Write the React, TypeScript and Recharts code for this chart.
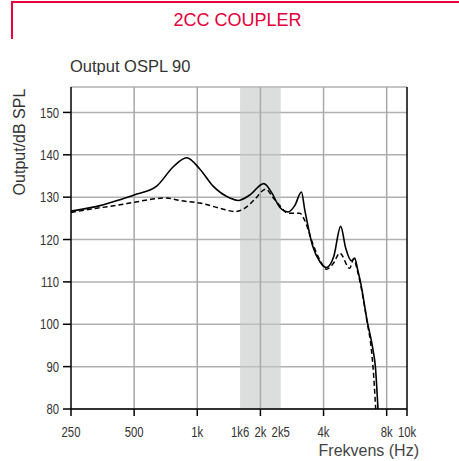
import React from 'react';
import {
  LineChart,
  Line,
  XAxis,
  YAxis,
  CartesianGrid,
  ReferenceArea,
  ReferenceLine,
} from 'recharts';

// solid curve (OSPL 90, full on)
const solidFreq = [250, 344, 428, 500, 640, 773, 889, 1030, 1190, 1430, 1565, 1780, 2076, 2267, 2474, 2710, 2916, 3138, 3255, 3553, 3837, 4130, 4474, 4830, 5100, 5430, 5630, 5840, 6000, 6445, 6883, 7067, 7271];
const solidDb = [126.7, 128, 129.4, 130.5, 132.6, 137.3, 139.3, 136.6, 132.6, 129.8, 129.2, 130.5, 133.2, 131, 127.6, 126.5, 128, 131.2, 127, 118.4, 114.8, 113.4, 116, 123.1, 118, 115, 115.6, 112.5, 110, 101, 94, 90, 80];

// dashed curve
const dashFreq = [250, 344, 428, 500, 714, 827, 1030, 1281, 1510, 1686, 1881, 2120, 2291, 2474, 2710, 3080, 3255, 3553, 3837, 4130, 4474, 4780, 5330, 5570, 5810, 6000, 6430, 6765, 6883, 7092];
const dashDb = [126.4, 127.5, 128.2, 128.8, 129.8, 129.2, 128.6, 127.4, 126.6, 127.4, 129.5, 131.9, 130, 128, 126.2, 126.2, 124.5, 119, 115.2, 113, 114.5, 116.8, 113.2, 115.4, 112.5, 109.5, 101, 94, 90, 80];

const xTicks = [250, 500, 1000, 1600, 2000, 2500, 4000, 8000, 10000];
const xTickLabels = ['250', '500', '1k', '1k6', '2k', '2k5', '4k', '8k', '10k'];
const xTickMarks = [250, 500, 1000, 2000, 4000, 8000, 10000];
const gridFreqs = [500, 1000, 2000, 4000, 8000];
const yTicks = [80, 90, 100, 110, 120, 130, 140, 150];
const band = [1600, 2500];

const solidData = solidFreq.map((f, i) => ({ f, db: solidDb[i] }));
const dashData = dashFreq.map((f, i) => ({ f, db: dashDb[i] }));

const sans = '"Liberation Sans", Arial, sans-serif';

// the tick labels are a condensed face in the original, squeeze them a bit
const FreqTick = (props: any) => {
  const { x, y, payload } = props;
  const idx = xTicks.indexOf(payload.value);
  return (
    <g>
      {xTickMarks.includes(payload.value) && (
        <line x1={x} x2={x} y1={y} y2={y + 7} stroke="#000" strokeWidth={1.5} />
      )}
      <text
        transform={`translate(${x},${y + 28}) scale(0.78,1)`}
        textAnchor="middle"
        fontSize={14.5}
        fill="#333"
        fontFamily={sans}
      >
        {xTickLabels[idx]}
      </text>
    </g>
  );
};

const DbTick = (props: any) => {
  const { x, y, payload } = props;
  return (
    <text
      transform={`translate(${x},${y}) scale(0.78,1)`}
      textAnchor="end"
      dy="0.36em"
      fontSize={14.5}
      fill="#333"
      fontFamily={sans}
    >
      {payload.value}
    </text>
  );
};

export default function App() {
  return (
    <div style={{ position: 'absolute', left: 0, top: 0, width: 459, height: 461, background: '#fff' }}>
      <div
        style={{
          position: 'absolute',
          left: 11,
          top: 1,
          width: 448,
          height: 36,
          borderTop: '2px solid #e8003d',
          borderLeft: '2px solid #e8003d',
        }}
      />
      <div
        style={{
          position: 'absolute',
          left: 0,
          width: 475,
          top: 10,
          textAlign: 'center',
          fontFamily: sans,
          fontSize: 18,
          lineHeight: '20px',
          color: '#e4003b',
        }}
      >
        2CC COUPLER
      </div>
      <div
        style={{
          position: 'absolute',
          left: 70,
          top: 57,
          fontFamily: sans,
          fontSize: 16.5,
          lineHeight: '18px',
          color: '#333',
        }}
      >
        Output OSPL 90
      </div>
      <div style={{ position: 'absolute', left: 20, top: 142, width: 0, height: 0 }}>
        <div
          style={{
            position: 'absolute',
            left: -80,
            top: -9,
            width: 160,
            textAlign: 'center',
            transform: 'rotate(-90deg)',
            fontFamily: sans,
            fontSize: 16,
            lineHeight: '18px',
            color: '#333',
            whiteSpace: 'nowrap',
          }}
        >
          Output/dB SPL
        </div>
      </div>
      <div
        style={{
          position: 'absolute',
          right: 459 - 419,
          top: 442,
          fontFamily: sans,
          fontSize: 16,
          lineHeight: '18px',
          color: '#444',
          whiteSpace: 'nowrap',
        }}
      >
        Frekvens (Hz)
      </div>
      <div style={{ position: 'absolute', left: 0, top: 0 }}>
        <LineChart width={459} height={461} margin={{ top: 87, right: 52, bottom: 0, left: 0 }}>
          <CartesianGrid vertical={false} stroke="#b0b0b0" strokeWidth={1.5} />
          <ReferenceArea x1={band[0]} x2={band[1]} y1={80} y2={156} fill="#c4c6c6" fillOpacity={0.6} stroke="none" />
          {gridFreqs.map((g) => (
            <ReferenceLine key={g} x={g} stroke="#a8a8a8" strokeWidth={1.5} />
          ))}
          <ReferenceLine x={10000} stroke="#000" strokeWidth={1.5} />
          <XAxis
            dataKey="f"
            type="number"
            scale="log"
            domain={[250, 10000]}
            ticks={xTicks}
            allowDataOverflow
            height={52}
            tickLine={false}
            tickSize={0}
            tickMargin={0}
            tick={<FreqTick />}
            axisLine={{ stroke: '#000', strokeWidth: 1.5 }}
            interval={0}
          />
          <YAxis
            type="number"
            domain={[80, 156]}
            ticks={yTicks}
            width={71}
            allowDataOverflow
            tickSize={8}
            tickMargin={4}
            tick={<DbTick />}
            tickLine={{ stroke: '#000', strokeWidth: 1.5 }}
            axisLine={{ stroke: '#000', strokeWidth: 1.5 }}
            interval={0}
          />
          <Line
            data={dashData}
            dataKey="db"
            type="monotone"
            stroke="#000"
            strokeWidth={1.5}
            strokeDasharray="5 3"
            dot={false}
            isAnimationActive={false}
          />
          <Line
            data={solidData}
            dataKey="db"
            type="monotone"
            stroke="#000"
            strokeWidth={1.6}
            dot={false}
            isAnimationActive={false}
          />
        </LineChart>
      </div>
    </div>
  );
}
